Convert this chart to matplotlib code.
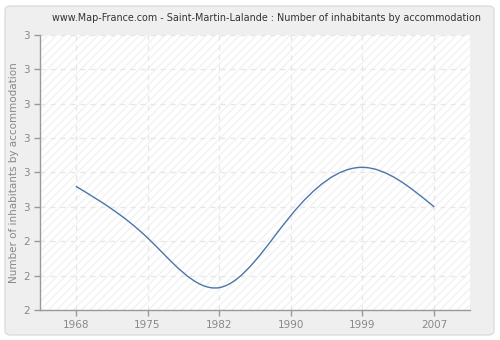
import matplotlib

matplotlib.use("Agg")
import matplotlib.pyplot as plt
import numpy as np
from matplotlib.patches import FancyBboxPatch, PathPatch, Rectangle
from matplotlib.path import Path
from matplotlib.ticker import FixedLocator, FuncFormatter

YEARS = ["1968", "1975", "1982", "1990", "1999", "2007"]
VALUES = [2.66, 2.51, 2.365, 2.575, 2.715, 2.60]
Y_TICKS = [2.3, 2.4, 2.5, 2.6, 2.7, 2.8, 2.9, 3.0, 3.1]

TITLE = "www.Map-France.com - Saint-Martin-Lalande : Number of inhabitants by accommodation"
Y_LABEL = "Number of inhabitants by accommodation"
LINE_COLOR = "#4a76aa"
TEXT_COLOR = "#888888"

def spline_path(ys):
    # natural cubic spline on unit spacing, drawn as bezier segments through the points
    y = np.asarray(ys, dtype=float)
    n = len(y)
    a = np.zeros((n, n))
    rhs = np.zeros(n)
    a[0, 0] = a[-1, -1] = 1.0
    for i in range(1, n - 1):
        a[i, i - 1], a[i, i], a[i, i + 1] = 1.0, 4.0, 1.0
        rhs[i] = 6.0 * (y[i + 1] - 2 * y[i] + y[i - 1])
    m = np.linalg.solve(a, rhs)
    slopes = np.empty(n)
    for i in range(n - 1):
        slopes[i] = (y[i + 1] - y[i]) - (2 * m[i] + m[i + 1]) / 6.0
    slopes[-1] = (y[-1] - y[-2]) + (m[-2] + 2 * m[-1]) / 6.0
    verts = [(0, y[0])]
    codes = [Path.MOVETO]
    for i in range(n - 1):
        verts += [(i + 1 / 3, y[i] + slopes[i] / 3), (i + 2 / 3, y[i + 1] - slopes[i + 1] / 3), (i + 1, y[i + 1])]
        codes += [Path.CURVE4] * 3
    return Path(verts, codes)

fig = plt.figure(figsize=(5.0, 3.4), dpi=100)
fig.patch.set_facecolor("white")
fig.patches.append(
    FancyBboxPatch(
        (5 / 500, 5 / 340), 489 / 500, 329 / 340,
        boxstyle="round,pad=0,rounding_size=0.012",
        transform=fig.transFigure, facecolor="#efefef", edgecolor="#dddddd", linewidth=1.0,
        zorder=-10,
    )
)

ax = fig.add_axes([40 / 500, 30 / 340, 430 / 500, 275 / 340])
ax.set_zorder(1)
ax.set_facecolor("white")
ax.add_patch(
    Rectangle((0, 0), 1, 1, transform=ax.transAxes, facecolor="white",
              edgecolor="#f2f2f2", hatch="////", linewidth=0, zorder=0)
)

ax.add_patch(PathPatch(spline_path(VALUES), facecolor="none", edgecolor=LINE_COLOR,
                       linewidth=1.0, zorder=3))

xs = list(range(len(YEARS)))
ax.set_xlim(-0.5, len(YEARS) - 0.5)
ax.set_ylim(Y_TICKS[0], Y_TICKS[-1])
ax.set_xticks(xs)
ax.set_xticklabels(YEARS)
ax.yaxis.set_major_locator(FixedLocator(Y_TICKS))
ax.yaxis.set_major_formatter(FuncFormatter(lambda v, p: format(round(v, 2), ".0f")))

ax.grid(True, color="#e6e6e6", linestyle=(0, (4, 4)), linewidth=0.9, zorder=1)
ax.set_axisbelow(True)
for side in ("top", "right"):
    ax.spines[side].set_visible(False)
for side in ("left", "bottom"):
    ax.spines[side].set_color("#999999")
    ax.spines[side].set_linewidth(1.0)
ax.tick_params(colors="#999999", labelcolor=TEXT_COLOR, labelsize=7.5, length=4, width=1.0)

ax.set_ylabel(Y_LABEL, color=TEXT_COLOR, fontsize=7.5, labelpad=3)
fig.text(267 / 500, 1 - 18 / 340, TITLE, ha="center", va="center", fontsize=6.9, color="#333333")

fig.savefig("out.png", dpi=100, facecolor=fig.get_facecolor())
